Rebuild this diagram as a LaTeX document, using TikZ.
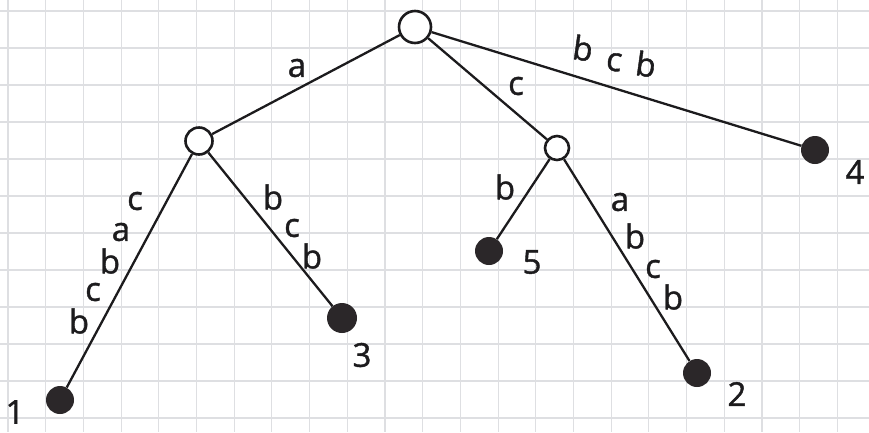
\documentclass[tikz,border=0pt]{standalone}
\usepackage{fontspec}
\setmainfont{Open Sans}
\newfontfamily\handfont[FakeBold=1.2]{Open Sans}
\definecolor{ink}{HTML}{1C1B1D}
\definecolor{leafc}{HTML}{2B2729}
\definecolor{gridc}{HTML}{DEDFE2}
\tikzset{
  gridline/.style={draw=gridc, line width=1.1pt},
  inner/.style={circle, draw=ink, fill=white, line width=2.6pt, minimum size=27pt, inner sep=0pt},
  leaf/.style={circle, fill=leafc, minimum size=28pt, inner sep=0pt},
  edge/.style={draw=ink, line width=2.3pt},
  lbl/.style={text=ink, inner sep=0pt, font=\handfont\fontsize{33}{33}\selectfont},
  num/.style={text=ink, inner sep=0pt, font=\handfont\fontsize{33}{33}\selectfont}
}
\begin{document}
\begin{tikzpicture}[x=1pt, y=-1pt]
  % paper and squared grid
  \fill[white] (0,0) rectangle (869,432);
  \useasboundingbox (0,0) rectangle (869,432);
  \foreach \i in {0,...,22} \draw[gridline] ({8+37.7*\i},0) -- ++(0,432);
  \foreach \j in {0,...,11} \draw[gridline] (0,{11+37*\j}) -- ++(869,0);

  % internal nodes
  \node[inner, minimum width=32pt, minimum height=28pt] (r) at (415,27) {};
  \node[inner] (na) at (199,141) {};
  \node[inner, minimum size=24pt] (nc) at (557,148) {};

  % leaves
  \node[leaf] (l1) at (60,400) {};
  \node[leaf] (l2) at (697,373) {};
  \node[leaf, minimum size=30pt] (l3) at (342,318) {};
  \node[leaf] (l4) at (815,150) {};
  \node[leaf] (l5) at (489,251) {};

  % edges
  \draw[edge] (r) -- (na);
  \draw[edge] (r) -- (nc);
  \draw[edge] (r) -- (l4);
  \draw[edge] (na) -- (l1);
  \draw[edge] (na) -- (l3);
  \draw[edge] (nc) -- (l5);
  \draw[edge] (nc) -- (l2);

  % edge labels
  \node[lbl] at (297,68) {a};
  \node[lbl] at (516,86) {c};
  \node[lbl, rotate=-8] at (583,48) {b};
  \node[lbl, rotate=-8] at (614,62) {c};
  \node[lbl, rotate=-8] at (646,64) {b};

  \node[lbl] at (135,201) {c};
  \node[lbl] at (121,232) {a};
  \node[lbl] at (110,261) {b};
  \node[lbl] at (93,292) {c};
  \node[lbl] at (79,321) {b};

  \node[lbl] at (273,197) {b};
  \node[lbl] at (292,228) {c};
  \node[lbl] at (312,256) {b};

  \node[lbl] at (505,187) {b};

  \node[lbl] at (620,202) {a};
  \node[lbl] at (635,236) {b};
  \node[lbl] at (653,269) {c};
  \node[lbl] at (673,297) {b};

  % leaf numbers
  \node[num] at (15,412) {1};
  \node[num] at (737,394) {2};
  \node[num] at (362,355) {3};
  \node[num] at (855,172) {4};
  \node[num] at (532,262) {5};
\end{tikzpicture}
\end{document}
